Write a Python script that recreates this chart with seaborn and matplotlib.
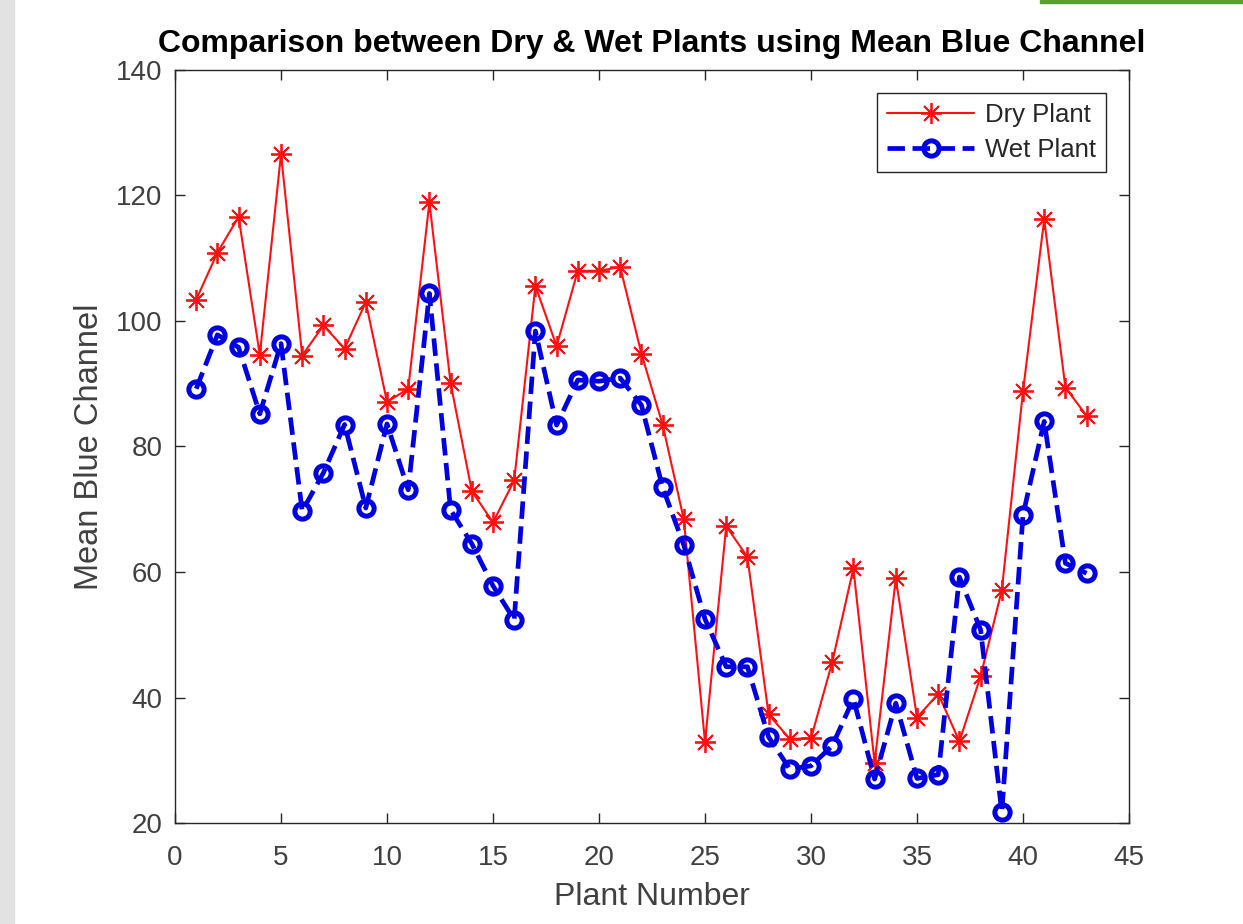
import matplotlib
matplotlib.use('Agg')
import matplotlib.pyplot as plt
import seaborn as sns
import numpy as np
from matplotlib.patches import Rectangle

# values
plant_number = list(range(1, 44))
dry_plant = [103.4, 110.9, 116.6, 94.6, 126.6, 94.5, 99.3, 95.6, 103.0, 87.1,
             89.2, 118.9, 90.1, 72.9, 67.9, 74.6, 105.6, 96.0, 108.0, 108.0,
             108.6, 94.8, 83.5, 68.4, 32.9, 67.3, 62.4, 37.3, 33.4, 33.5,
             45.6, 60.6, 29.6, 59.0, 36.8, 40.6, 33.0, 43.4, 57.1, 88.8,
             116.2, 89.4, 84.9]
wet_plant = [89.2, 97.8, 95.8, 85.2, 96.4, 69.7, 75.8, 83.5, 70.2, 83.6,
             73.1, 104.4, 69.9, 64.5, 57.8, 52.4, 98.4, 83.4, 90.6, 90.4,
             90.9, 86.6, 73.5, 64.3, 52.5, 44.9, 44.9, 33.7, 28.6, 29.1,
             32.3, 39.8, 27.0, 39.1, 27.1, 27.7, 59.2, 50.8, 21.7, 69.1,
             84.0, 61.4, 59.8]

sns.set_style("white")
plt.rcParams['font.family'] = ['Liberation Sans', 'DejaVu Sans']

fig = plt.figure(figsize=(12.43, 9.24), dpi=100)
ax = fig.add_axes([175 / 1243, 101 / 924, 954 / 1243, 753 / 924])

# screenshot edges
fig.patches.append(Rectangle((0, 0), 14 / 1243, 1, transform=fig.transFigure,
                             color='#e2e2e2', zorder=0))
fig.patches.append(Rectangle((1040 / 1243, 1 - 3 / 924), 203 / 1243, 3 / 924,
                             transform=fig.transFigure, color='#5a9e2f', zorder=0))

red = '#ff1010'
blue = '#0000e0'
# matlab style asterisk: 8 arms
sns.lineplot(x=plant_number, y=dry_plant, ax=ax, color=red, lw=1.5,
             marker=(8, 2, 0), markersize=15, markeredgewidth=1.3,
             markeredgecolor=red, label='Dry Plant')
sns.lineplot(x=plant_number, y=wet_plant, ax=ax, color=blue, lw=3.4,
             linestyle='--', marker='o', markersize=11, markeredgewidth=3.6,
             markeredgecolor=blue, markerfacecolor='none', label='Wet Plant')

ax.set_xlim(0, 45)
ax.set_ylim(20, 140)
ax.set_xticks(np.arange(0, 46, 5))
ax.set_yticks(np.arange(20, 141, 20))

for s in ax.spines.values():
    s.set_color('#262626')
    s.set_linewidth(1.0)
ax.tick_params(direction='in', length=7, width=1, colors='#262626',
               labelsize=20, top=True, right=True, bottom=True, left=True,
               labelcolor='#404040')
ax.tick_params(axis='x', pad=16)
ax.tick_params(axis='y', pad=9)

ax.set_title('Comparison between Dry & Wet Plants using Mean Blue Channel',
             fontsize=23, fontweight='bold', color='black', pad=13)
ax.set_xlabel('Plant Number', fontsize=23, color='#404040', labelpad=8)
ax.set_ylabel('Mean Blue Channel', fontsize=23.5, color='#404040', labelpad=8)

leg = ax.legend(loc='upper right', fontsize=18.5, handlelength=3.4, frameon=True,
                fancybox=False, framealpha=1, edgecolor='#262626',
                borderaxespad=0.9, labelspacing=0.4, borderpad=0.4,
                handletextpad=0.4)
leg.get_frame().set_linewidth(1.0)

fig.savefig('out.png', dpi=100, facecolor='white')
